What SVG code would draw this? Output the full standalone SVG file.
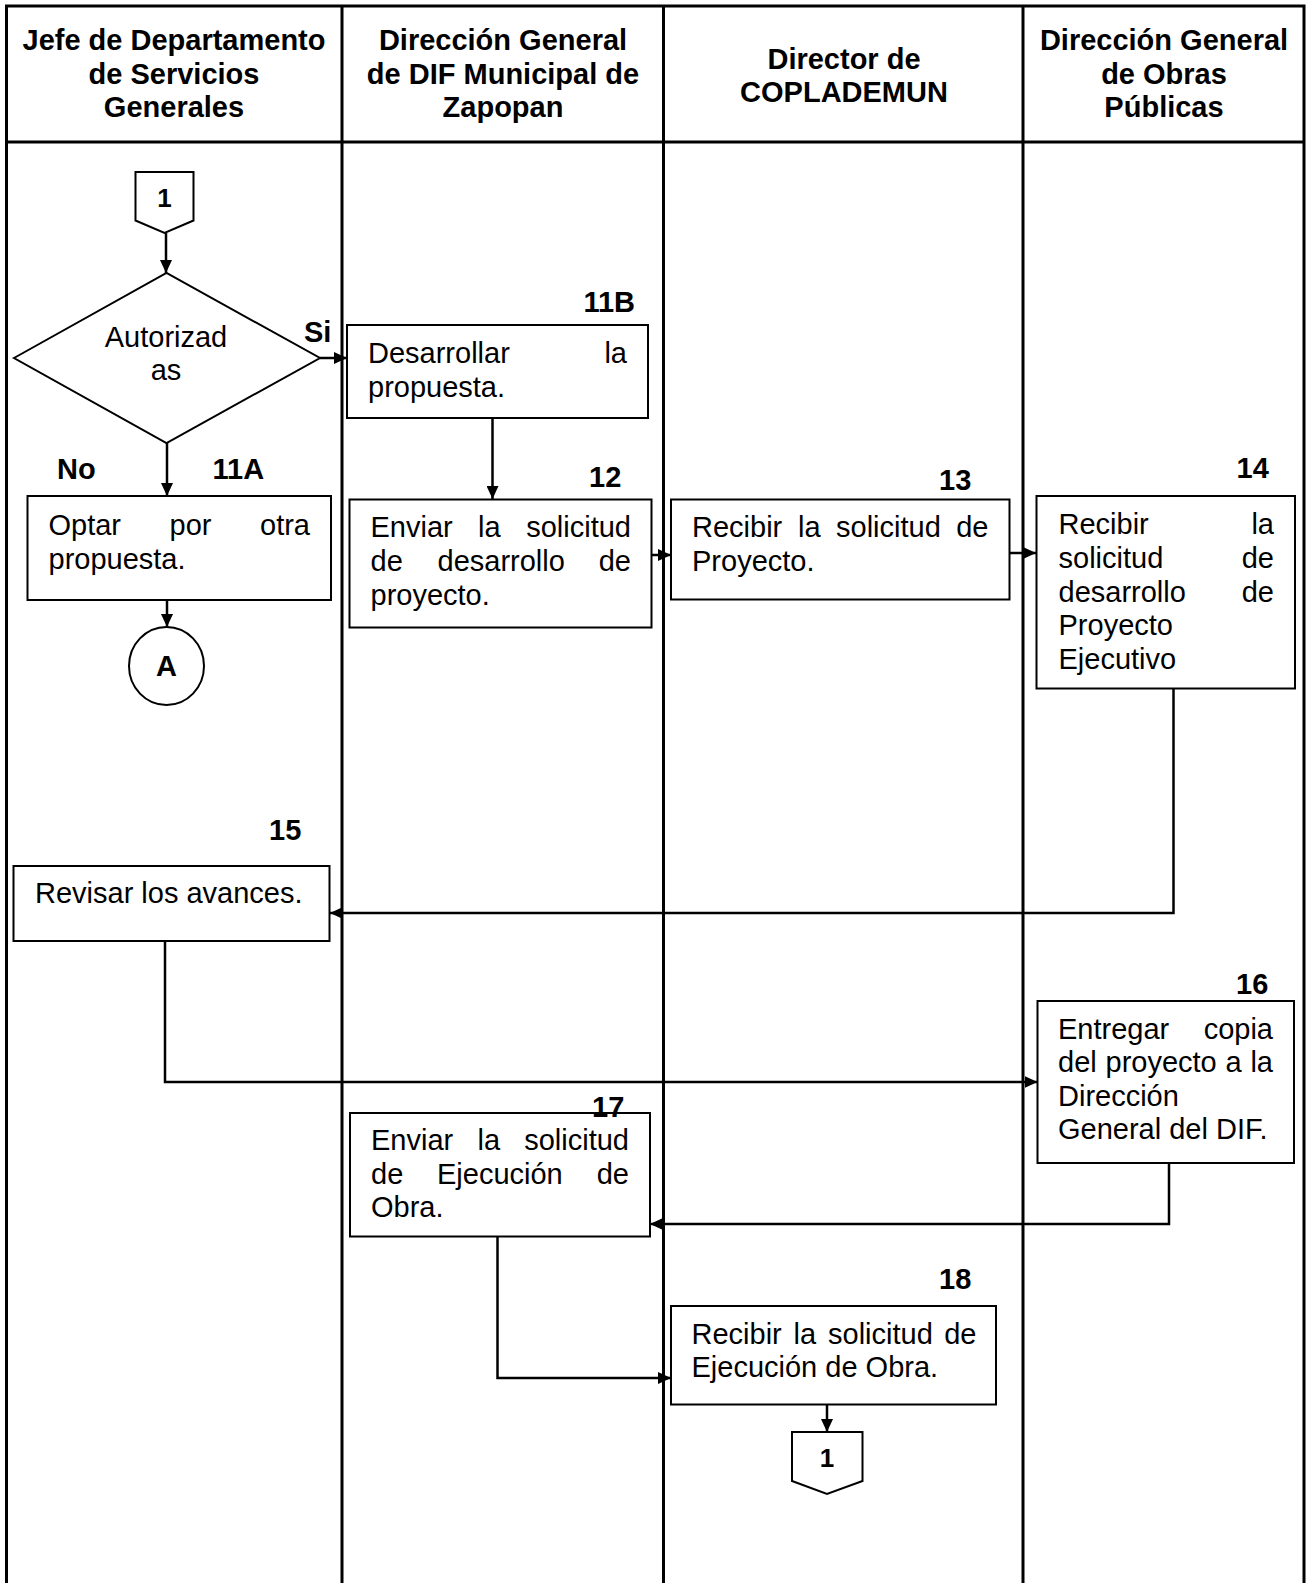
<svg xmlns="http://www.w3.org/2000/svg" width="1307" height="1583" viewBox="0 0 1307 1583">
<defs>
<marker id="ah" viewBox="0 0 13 12" refX="13" refY="6" markerWidth="13" markerHeight="12" markerUnits="userSpaceOnUse" orient="auto">
<path d="M0,0 L13,6 L0,12 z" fill="#000"/>
</marker>
<style>
text{font-family:"Liberation Sans",Arial,sans-serif;font-size:29px;fill:#000}
.h{font-weight:bold;text-anchor:middle}
.b{font-weight:bold}
.e{text-anchor:end}
.m{text-anchor:middle}
.lane{stroke:#000;stroke-width:3;fill:none}
.box{fill:#fff;stroke:#000;stroke-width:2}
.ca{fill:none;stroke:#000;stroke-width:2.5;marker-end:url(#ah)}
</style>
</defs>
<rect width="1307" height="1583" fill="#fff"/>
<g id="lanes">
<path class="lane" d="M6.5,1583 V6 H1304 V1583"/>
<path class="lane" d="M6.5,142 H1304"/>
<path class="lane" d="M342,6 V1583 M663.5,6 V1583 M1023,6 V1583"/>
</g>
<g id="headers">
<text class="h" x="174" y="50">Jefe de Departamento</text>
<text class="h" x="174" y="83.5">de Servicios</text>
<text class="h" x="174" y="117">Generales</text>
<text class="h" x="503" y="50">Dirección General</text>
<text class="h" x="503" y="83.5">de DIF Municipal de</text>
<text class="h" x="503" y="117">Zapopan</text>
<text class="h" x="844" y="68.5">Director de</text>
<text class="h" x="844" y="102">COPLADEMUN</text>
<text class="h" x="1164" y="50">Dirección General</text>
<text class="h" x="1164" y="83.5">de Obras</text>
<text class="h" x="1164" y="117">Públicas</text>
</g>
<g id="connectors">
<path class="ca" d="M166,233 V273"/>
<path class="ca" d="M320,358 H347"/>
<path class="ca" d="M167,443 V496"/>
<path class="ca" d="M167,600 V627"/>
<path class="ca" d="M492.5,418 V499"/>
<path class="ca" d="M651.5,555 H671"/>
<path class="ca" d="M1009.5,553 H1036"/>
<path class="ca" d="M1173.5,688 V913 H330"/>
<path class="ca" d="M165,941 V1082 H1037.5"/>
<path class="ca" d="M1169,1163 V1224 H650"/>
<path class="ca" d="M497.5,1236.5 V1378 H671"/>
<path class="ca" d="M827,1404.5 V1432"/>
</g>
<g id="start1">
<path class="box" d="M135.5,172 H193.5 V220.5 L164.5,233 L135.5,220.5 Z"/>
<text class="b m" x="164.5" y="207" style="font-size:26px">1</text>
</g>
<g id="decision">
<path class="box" d="M14,358 L166.5,273 L320,358 L166.5,443 Z"/>
<text class="m" x="166" y="346.5">Autorizad</text>
<text class="m" x="166" y="380">as</text>
<text class="b" x="304" y="341.5">Si</text>
<text class="b" x="57" y="479">No</text>
</g>
<g id="n11A">
<rect class="box" x="27.5" y="496" width="303.5" height="104"/>
<text class="b" x="212.5" y="479">11A</text>
<text x="48.5" y="535">Optar</text>
<text x="169.5" y="535">por</text>
<text class="e" x="310" y="535">otra</text>
<text x="48.5" y="568.5">propuesta.</text>
</g>
<g id="connA">
<ellipse class="box" cx="166.5" cy="666" rx="37.5" ry="39"/>
<text class="b m" x="166.5" y="676">A</text>
</g>
<g id="n11B">
<rect class="box" x="347" y="325" width="301" height="93"/>
<text class="b e" x="635" y="311.5">11B</text>
<text x="368" y="363">Desarrollar</text>
<text class="e" x="627" y="363">la</text>
<text x="368" y="397">propuesta.</text>
</g>
<g id="n12">
<rect class="box" x="349.5" y="499.5" width="302" height="128"/>
<text class="b" x="589" y="486.5">12</text>
<text x="370.5" y="537">Enviar</text>
<text x="478" y="537">la</text>
<text class="e" x="631" y="537">solicitud</text>
<text x="370.5" y="570.5">de</text>
<text x="437.5" y="570.5">desarrollo</text>
<text class="e" x="631" y="570.5">de</text>
<text x="370.5" y="604.5">proyecto.</text>
</g>
<g id="n13">
<rect class="box" x="671" y="499.5" width="338.5" height="100"/>
<text class="b" x="939" y="490">13</text>
<text x="692" y="537">Recibir</text>
<text x="798" y="537">la</text>
<text x="836" y="537">solicitud</text>
<text class="e" x="988.5" y="537">de</text>
<text x="692" y="570.5">Proyecto.</text>
</g>
<g id="n14">
<rect class="box" x="1036.5" y="496" width="258.5" height="192.5"/>
<text class="b" x="1236.5" y="477.5">14</text>
<text x="1058.5" y="533.5">Recibir</text>
<text class="e" x="1274" y="533.5">la</text>
<text x="1058.5" y="567.5">solicitud</text>
<text class="e" x="1274" y="567.5">de</text>
<text x="1058.5" y="601.5">desarrollo</text>
<text class="e" x="1274" y="601.5">de</text>
<text x="1058.5" y="635">Proyecto</text>
<text x="1058.5" y="668.5">Ejecutivo</text>
</g>
<g id="n15">
<rect class="box" x="13.5" y="866" width="316" height="75"/>
<text class="b" x="269" y="840">15</text>
<text x="35" y="903">Revisar los avances.</text>
</g>
<g id="n16">
<rect class="box" x="1037.5" y="1001" width="256.5" height="162"/>
<text class="b" x="1236" y="994">16</text>
<text x="1058" y="1038.5">Entregar</text>
<text class="e" x="1273" y="1038.5">copia</text>
<text x="1058" y="1072">del</text>
<text x="1105.5" y="1072">proyecto</text>
<text x="1225.5" y="1072">a</text>
<text class="e" x="1273" y="1072">la</text>
<text x="1058" y="1105.5">Dirección</text>
<text x="1058" y="1139">General del DIF.</text>
</g>
<g id="n17">
<rect class="box" x="350" y="1113" width="300" height="123.5"/>
<text class="b" x="592" y="1117">17</text>
<text x="371" y="1150">Enviar</text>
<text x="477.5" y="1150">la</text>
<text class="e" x="629" y="1150">solicitud</text>
<text x="371" y="1183.5">de</text>
<text x="437" y="1183.5">Ejecución</text>
<text class="e" x="629" y="1183.5">de</text>
<text x="371" y="1217">Obra.</text>
</g>
<g id="n18">
<rect class="box" x="671" y="1306" width="325" height="98.5"/>
<text class="b" x="939" y="1288.5">18</text>
<text x="691.5" y="1344">Recibir</text>
<text x="793.5" y="1344">la</text>
<text x="828" y="1344">solicitud</text>
<text class="e" x="976.5" y="1344">de</text>
<text x="691.5" y="1377">Ejecución de Obra.</text>
</g>
<g id="end1">
<path class="box" d="M792,1432 H862.5 V1481 L827,1494 L792,1481 Z"/>
<text class="b m" x="827" y="1467" style="font-size:26px">1</text>
</g>
</svg>
